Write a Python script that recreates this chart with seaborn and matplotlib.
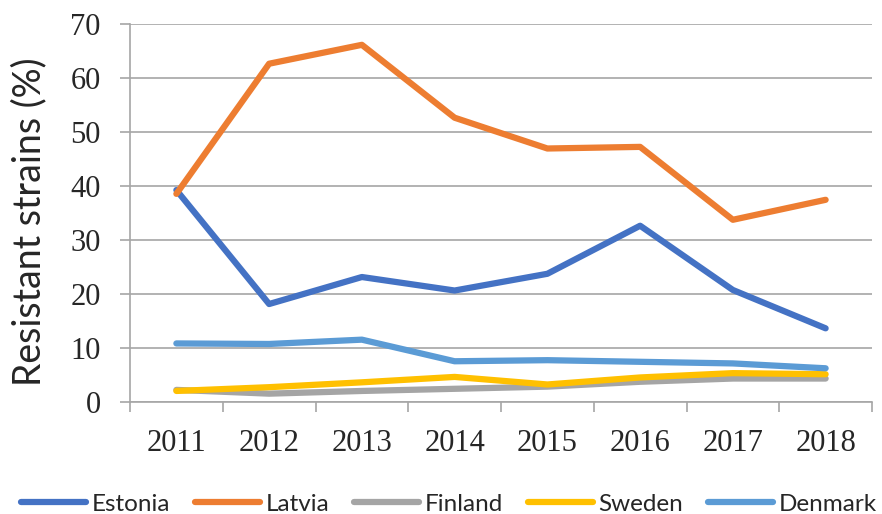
import numpy as np
import pandas as pd
import matplotlib
matplotlib.use("Agg")
import matplotlib.pyplot as plt
import seaborn as sns

years = ["2011", "2012", "2013", "2014", "2015", "2016", "2017", "2018"]
countries = ["Estonia", "Latvia", "Finland", "Sweden", "Denmark"]
estonia = [39.3, 18.2, 23.2, 20.7, 23.8, 32.7, 20.8, 13.7]
latvia = [38.6, 62.7, 66.2, 52.7, 47.0, 47.3, 33.8, 37.5]
finland = [2.3, 1.6, 2.1, 2.5, 2.9, 3.8, 4.4, 4.4]
sweden = [2.1, 2.8, 3.7, 4.7, 3.3, 4.6, 5.4, 5.2]
denmark = [10.9, 10.8, 11.6, 7.6, 7.8, 7.5, 7.2, 6.3]
colors = ["#4472C4", "#ED7D31", "#A5A5A5", "#FFC000", "#5B9BD5"]

series = [estonia, latvia, finland, sweden, denmark]
rows = []
for c, vals in zip(countries, series):
    for i, v in enumerate(vals):
        rows.append({"country": c, "pos": i, "year": years[i], "value": v})
df = pd.DataFrame(rows)

sns.set_style("white")
plt.rcParams["font.family"] = ["Lato", "DejaVu Sans"]

W, H = 882, 514
fig = plt.figure(figsize=(W / 100, H / 100), dpi=100)
ax = fig.add_axes([130 / W, (H - 402.3) / H, (872 - 130) / W, (402.3 - 24.3) / H])

grey = "#A6A6A6"
sns.lineplot(data=df, x="pos", y="value", hue="country", hue_order=countries,
             palette=colors, linewidth=4.5, sort=False, ax=ax,
             solid_capstyle="round", solid_joinstyle="round", legend=True)

handles, labels = ax.get_legend_handles_labels()
ax.get_legend().remove()

ax.set_xlim(-0.5, 7.5)
ax.set_ylim(0, 70)
ax.set_xlabel("")
ax.set_ylabel("")

ax.set_xticks(np.arange(-0.5, 8.0, 1.0))
ax.set_xticklabels([])
ax.set_xticks(np.arange(8), minor=True)
ax.set_xticklabels(years, minor=True, family="Liberation Serif", fontsize=22)
ax.tick_params(axis="x", which="major", length=7.2, width=1.2, color=grey,
               direction="out", bottom=True)
ax.tick_params(axis="x", which="minor", length=0, pad=19, bottom=True)

ax.set_yticks(np.arange(0, 71, 10))
ax.set_yticklabels([str(v) for v in range(0, 71, 10)], family="Liberation Serif", fontsize=22)
ax.tick_params(axis="y", which="major", length=7.2, width=1.2, color=grey,
               direction="out", left=True, pad=14)

ax.yaxis.grid(True, color=grey, linewidth=1.2)
ax.xaxis.grid(False)
for s in ["top", "right"]:
    ax.spines[s].set_visible(False)
for s in ["left", "bottom"]:
    ax.spines[s].set_color(grey)
    ax.spines[s].set_linewidth(1.2)

fig.text(29 / W, 1 - 222 / H, "Resistant strains (%)", rotation=90,
         ha="center", va="center", fontsize=27, family="Lato")

for h in handles:
    h.set_linewidth(4.5)
    h.set_solid_capstyle("round")
fig.legend(handles, labels, loc="center", bbox_to_anchor=(449 / W, 1 - 504 / H),
           ncol=5, frameon=False, fontsize=17.5, handlelength=2.67,
           handletextpad=0.25, columnspacing=1.0, borderaxespad=0)

fig.savefig("out.png", dpi=100)
